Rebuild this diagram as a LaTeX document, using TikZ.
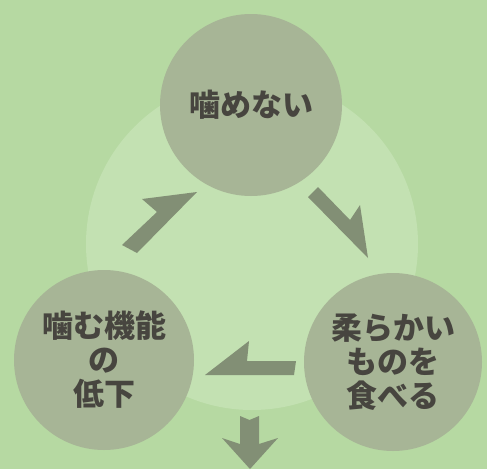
\documentclass[tikz,border=0pt]{standalone}
\usepackage{fontspec}
\newfontfamily\jp{Noto Sans CJK JP}
\definecolor{bgc}{HTML}{B6D9A2}
\definecolor{palec}{HTML}{C3E1B2}
\definecolor{circc}{HTML}{A7B596}
\definecolor{arrc}{HTML}{828F75}
\definecolor{txtc}{HTML}{47453F}
\tikzset{
  bubble/.style={circle, fill=circc, inner sep=0pt, text=txtc, align=center,
    font=\jp\bfseries\fontsize{31}{34}\selectfont},
  harpoon/.style={fill=arrc, draw=none}
}
\begin{document}
\begin{tikzpicture}[x=1pt,y=-1pt]
\useasboundingbox (0,0) rectangle (487,469);
\fill[bgc] (0,0) rectangle (487,469);
\node[circle, fill=palec, minimum size=332pt, inner sep=0pt] (ring) at (252,244) {};
% harpoon arrows
\fill[harpoon] (137,253) -- (122,245) -- (157,212) -- (142,199) -- (197,192) -- cycle;
\fill[harpoon] (318,187) -- (350,220) -- (360,205) -- (368,258) -- (308,197) -- cycle;
\fill[harpoon] (296,361) -- (247,361) -- (249,341) -- (205,375) -- (294,375) -- cycle;
% down arrow
\fill[harpoon] (240,416) -- (249.5,420) -- (259,416) -- (259,444) -- (278,438) -- (250,469) -- (222,438) -- (240,444) -- cycle;
% circles
\node[bubble, minimum size=182pt] (top) at (251,105) {噛めない};
\node[bubble, minimum size=180pt] (left) at (104,360) {噛む機能\\の\\低下};
\node[bubble, minimum size=178pt] (right) at (393,362) {柔らかい\\ものを\\食べる};
\end{tikzpicture}
\end{document}
